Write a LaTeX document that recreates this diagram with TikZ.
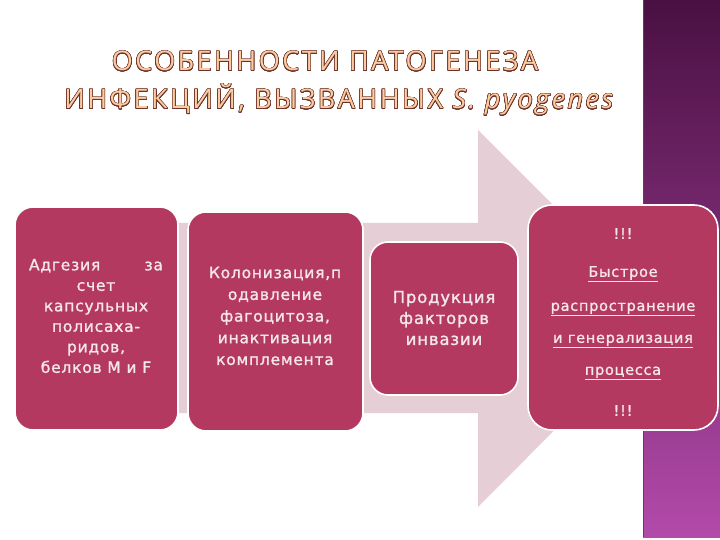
\documentclass[tikz,border=0pt]{standalone}
\usepackage{fontspec}
\setmainfont{Open Sans}
\newfontfamily\boxfont[LetterSpace=5,FakeBold=1.3]{DejaVu Sans}
\newfontfamily\titlefont[LetterSpace=9]{Open Sans}
\usepackage{contour}
\contourlength{0.55pt}
\contournumber{24}
\newcommand\myul[1]{\underline{#1}}
\definecolor{arrowpink}{RGB}{230,206,215}
\definecolor{boxred}{RGB}{180,57,96}
\definecolor{boxtext}{RGB}{244,230,236}
\definecolor{striptop}{RGB}{74,16,66}
\definecolor{stripbot}{RGB}{178,74,170}
\definecolor{titlefill}{RGB}{250,204,160}
\definecolor{titleline}{RGB}{110,50,45}
\tikzset{
  stagebox/.style={draw=white, line width=1.6pt, fill=boxred, rounded corners=18pt},
  boxlabel/.style={text=boxtext, align=center, font=\boxfont\fontsize{15.5}{20.5}\selectfont, inner sep=0pt},
  titleline/.style={anchor=base, inner sep=0pt, text=titlefill, font=\titlefont\fontsize{27}{34}\selectfont}
}
\begin{document}
\begin{tikzpicture}[x=1pt,y=-1pt]
\useasboundingbox (0,0) rectangle (720,540);
\fill[white] (0,0) rectangle (720,540);
% big arrow
\fill[arrowpink] (178,223) -- (478,223) -- (478,130) -- (666,318) -- (478,507) -- (478,413) -- (178,413) -- cycle;
% purple strip
\shade[top color=striptop, bottom color=stripbot] (643,0) rectangle (720,537);
\draw[black!70, line width=1pt] (643.5,0) -- (643.5,537);
% title
\node[titleline] (t1) at (325,71) {\contour{titleline}{ОСОБЕННОСТИ ПАТОГЕНЕЗА}};
\node[titleline] (t2) at (340,109) {\contour{titleline}{ИНФЕКЦИЙ, ВЫЗВАННЫХ \textit{S. pyogenes}}};
% boxes
\path[stagebox] (15,207) rectangle (178,430);
\node[boxlabel] (b1) at (96,316) {\makebox[134pt][s]{Адгезия\hfill за}\\счет\\капсульных\\полисаха-\\ридов,\\белков M и F};
\path[stagebox] (188,212) rectangle (363,431);
\node[boxlabel, font=\boxfont\fontsize{15.5}{21.7}\selectfont] (b2) at (275,316) {Колонизация,п\\одавление\\фагоцитоза,\\инактивация\\комплемента};
\path[stagebox] (370,242) rectangle (518,395);
\node[boxlabel, font=\boxfont\fontsize{16.5}{21}\selectfont] (b3) at (444,318) {Продукция\\факторов\\инвазии};
\path[stagebox, rounded corners=24pt] (528,205) rectangle (718,430);
\node[boxlabel, font=\boxfont\fontsize{14.5}{16}\selectfont] (b4) at (623,322) {!!!\\[22pt]\myul{Быстрое}\\[18pt]\myul{распространение}\\[16pt]\myul{и генерализация}\\[16pt]\myul{процесса}\\[25pt]!!!};
\end{tikzpicture}
\end{document}
